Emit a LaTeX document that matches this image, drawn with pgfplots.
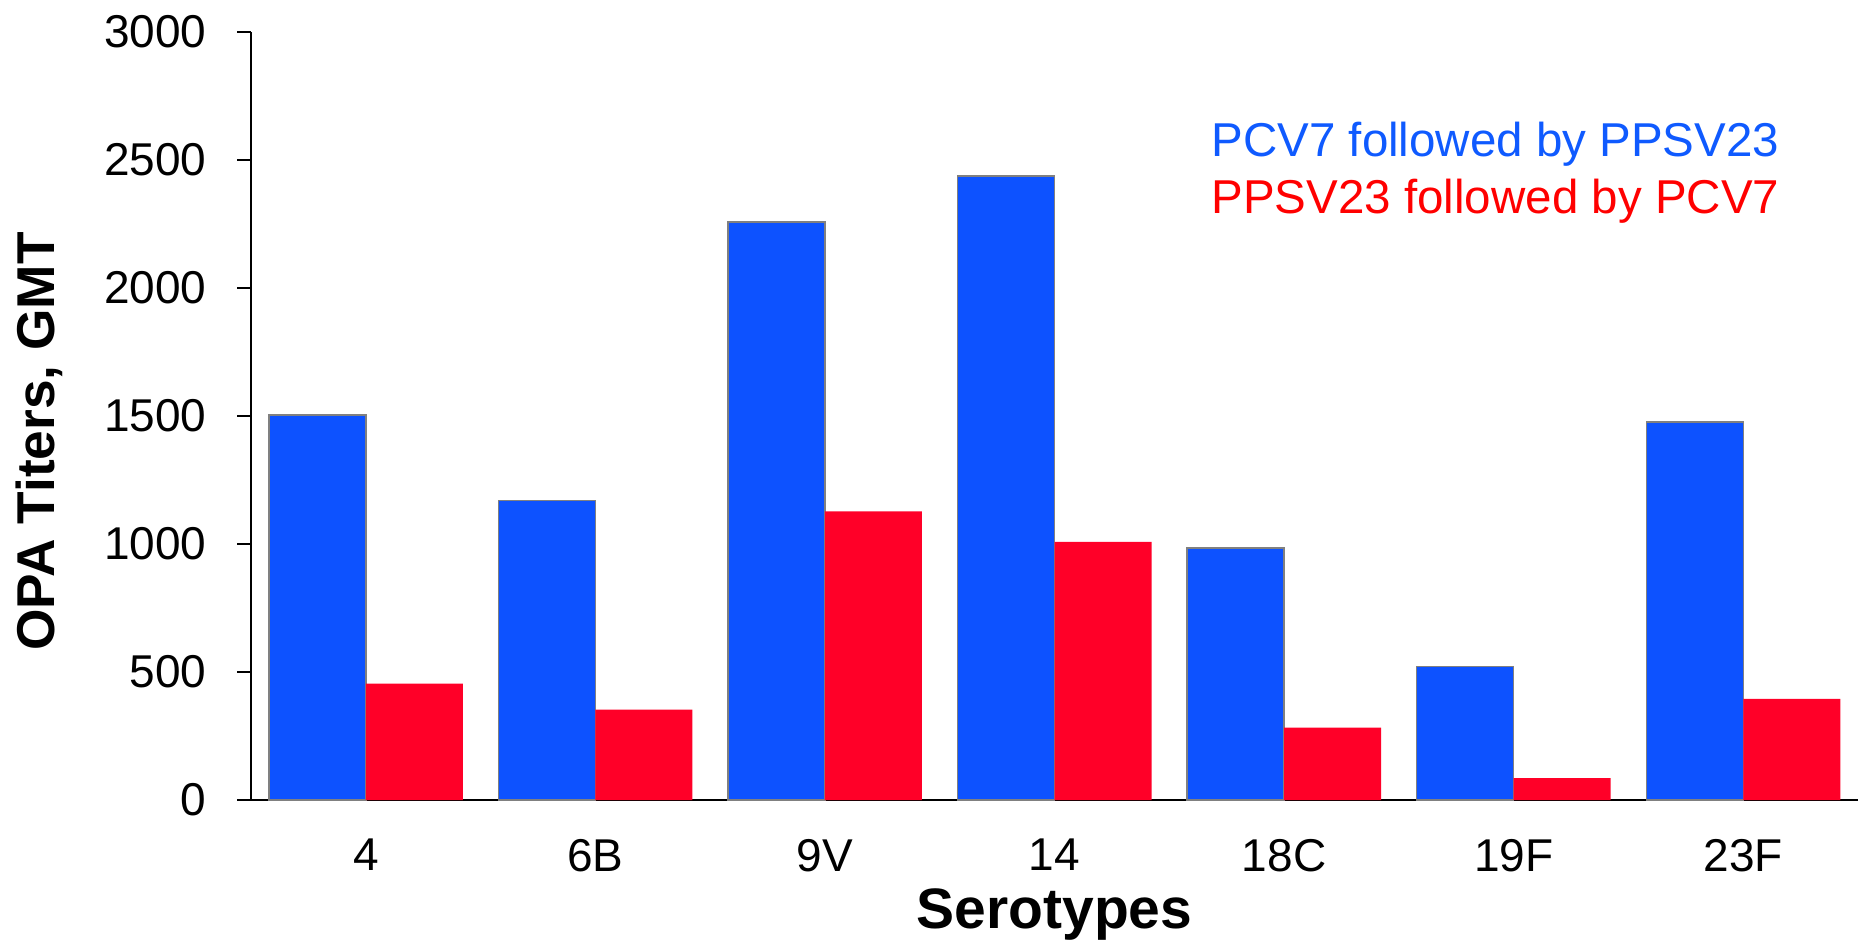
\documentclass[border=0pt]{standalone}
\usepackage{pgfplots}
\pgfplotsset{compat=1.18}
\usepackage{fontspec}
\setmainfont{Liberation Sans}
\definecolor{barblue}{HTML}{0D52FF}
\definecolor{barred}{HTML}{FF0028}
\definecolor{txtblue}{HTML}{0F5AFF}
\definecolor{txtred}{HTML}{FF0000}
\begin{document}
\begin{tikzpicture}
\begin{axis}[
  scale only axis,
  width=642.8pt, height=307.2pt,
  xmin=-0.5, xmax=6.5, ymin=0, ymax=3000,
  axis x line=bottom, axis y line=left,
  axis line style={-, line width=0.8pt},
  xtick={0,...,6},
  xticklabels={4,6B,9V,14,18C,19F,23F},
  ytick={0,500,...,3000},
  tick align=outside,
  major tick length=5.6pt,
  xtick style={draw=none},
  ytick style={line width=0.8pt, black},
  /pgf/number format/assume math mode=true,
  /pgf/number format/1000 sep={},
  tick label style={font=\fontsize{18.4}{22}\selectfont},
  yticklabel style={inner sep=0pt, xshift=-12pt},
  xticklabel style={yshift=-6.4pt},
  ybar, bar width=0.4225,
  xlabel={Serotypes},
  xlabel style={font=\bfseries\fontsize{22.8}{26}\selectfont, inner sep=0pt, at={(axis description cs:0.5,-0.1667)}, anchor=base},
  ylabel={OPA Titers, GMT},
  ylabel style={font=\bfseries\fontsize{21.3}{25}\selectfont, inner sep=0pt, at={(axis description cs:-0.122,0.4668)}, anchor=base},
]
\addplot[fill=barblue, draw=gray, line width=0.6pt, bar shift=-0.21125] coordinates {(0,1505) (1,1170) (2,2257) (3,2438) (4,985) (5,522) (6,1477)};
\addplot[fill=barred, draw=none, bar shift=0.21125] coordinates {(0,455) (1,353) (2,1128) (3,1008) (4,283) (5,86) (6,395)};
\node[anchor=base west, text=txtblue, font=\fontsize{19}{22}\selectfont, inner sep=0pt] at (axis description cs:0.5974,0.8385) {PCV7 followed by PPSV23};
\node[anchor=base west, text=txtred, font=\fontsize{19}{22}\selectfont, inner sep=0pt] at (axis description cs:0.5974,0.7643) {PPSV23 followed by PCV7};
\coordinate (bbbl) at (axis description cs:-0.1562,-0.1914);
\coordinate (bbtr) at (axis description cs:1.0037,1.0417);
\end{axis}
\path (bbbl) rectangle (bbtr);
\end{tikzpicture}
\end{document}
